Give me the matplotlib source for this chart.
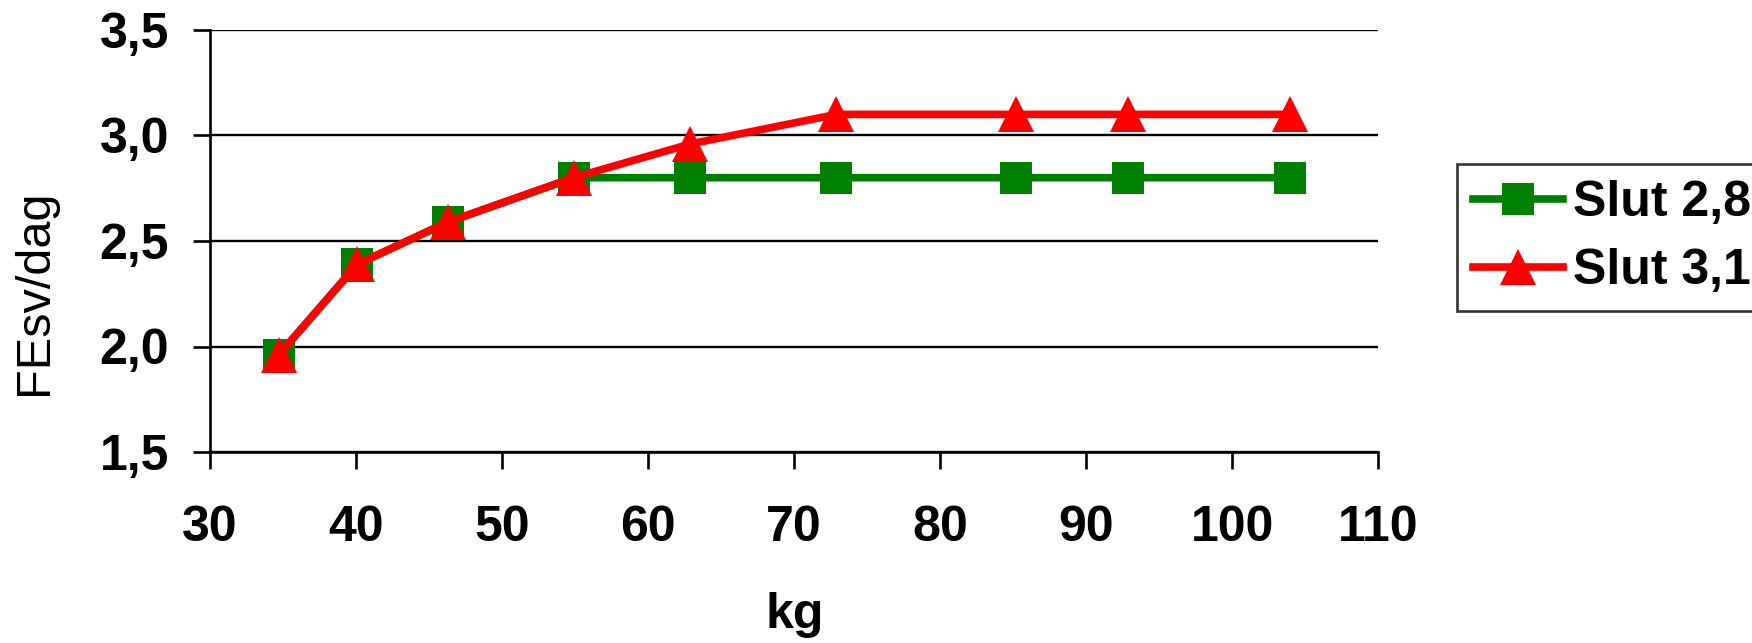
import matplotlib
matplotlib.use('Agg')
import matplotlib.pyplot as plt

# data
kg = [34.7, 40.1, 46.3, 54.9, 62.9, 72.9, 85.2, 92.9, 104.0]
slut_28 = [1.96, 2.39, 2.59, 2.80, 2.80, 2.80, 2.80, 2.80, 2.80]
slut_31 = [1.96, 2.39, 2.59, 2.80, 2.96, 3.10, 3.10, 3.10, 3.10]
x_ticks = [30, 40, 50, 60, 70, 80, 90, 100, 110]
y_ticks = [1.5, 2.0, 2.5, 3.0, 3.5]
y_labels = ['1,5', '2,0', '2,5', '3,0', '3,5']

plt.rcParams['font.family'] = ['Liberation Sans', 'DejaVu Sans']

fig = plt.figure(figsize=(17.52, 6.43), dpi=100)
ax = fig.add_axes([210 / 1752, 1 - 452 / 643, (1378 - 210) / 1752, (452 - 30) / 643])

ax.plot(kg, slut_28, color='#008000', lw=5.5, marker='s', ms=23, mew=0,
        label='Slut 2,8', clip_on=False, zorder=3)
ax.plot(kg, slut_31, color='#FF0000', lw=5.5, marker='^', ms=26.5, mew=0,
        label='Slut 3,1', clip_on=False, zorder=4)

ax.set_xlim(30, 110)
ax.set_ylim(1.5, 3.5)
ax.set_xticks(x_ticks)
ax.set_yticks(y_ticks)
ax.set_yticklabels(y_labels)

ax.grid(axis='y', color='black', lw=1.7)
ax.set_axisbelow(True)
for s in ['top', 'right']:
    ax.spines[s].set_visible(False)
for s in ['left', 'bottom']:
    ax.spines[s].set_linewidth(1.9)
ax.tick_params(axis='both', direction='out', length=12.5, width=1.9,
               labelsize=36)
ax.tick_params(axis='y', pad=17)
ax.tick_params(axis='x', pad=26)
for t in ax.get_xticklabels() + ax.get_yticklabels():
    t.set_fontweight('bold')

fig.text(795 / 1752, 1 - 628 / 643, 'kg', fontsize=36, fontweight='bold',
         ha='center', va='baseline')
fig.text(35 / 1752, 1 - 292 / 643, 'FEsv/dag', fontsize=35, rotation=90,
         ha='center', va='center')

leg = ax.legend(loc='upper left', bbox_to_anchor=(1457 / 1752, 1 - 164 / 643),
                bbox_transform=fig.transFigure, frameon=True, fancybox=False,
                prop={'size': 36, 'weight': 'bold'}, handlelength=1.8,
                handletextpad=0.2, borderpad=0.32, labelspacing=0.45,
                borderaxespad=0)
leg.get_frame().set_edgecolor('black')
leg.get_frame().set_linewidth(1.9)

fig.savefig('out.png', dpi=100)
